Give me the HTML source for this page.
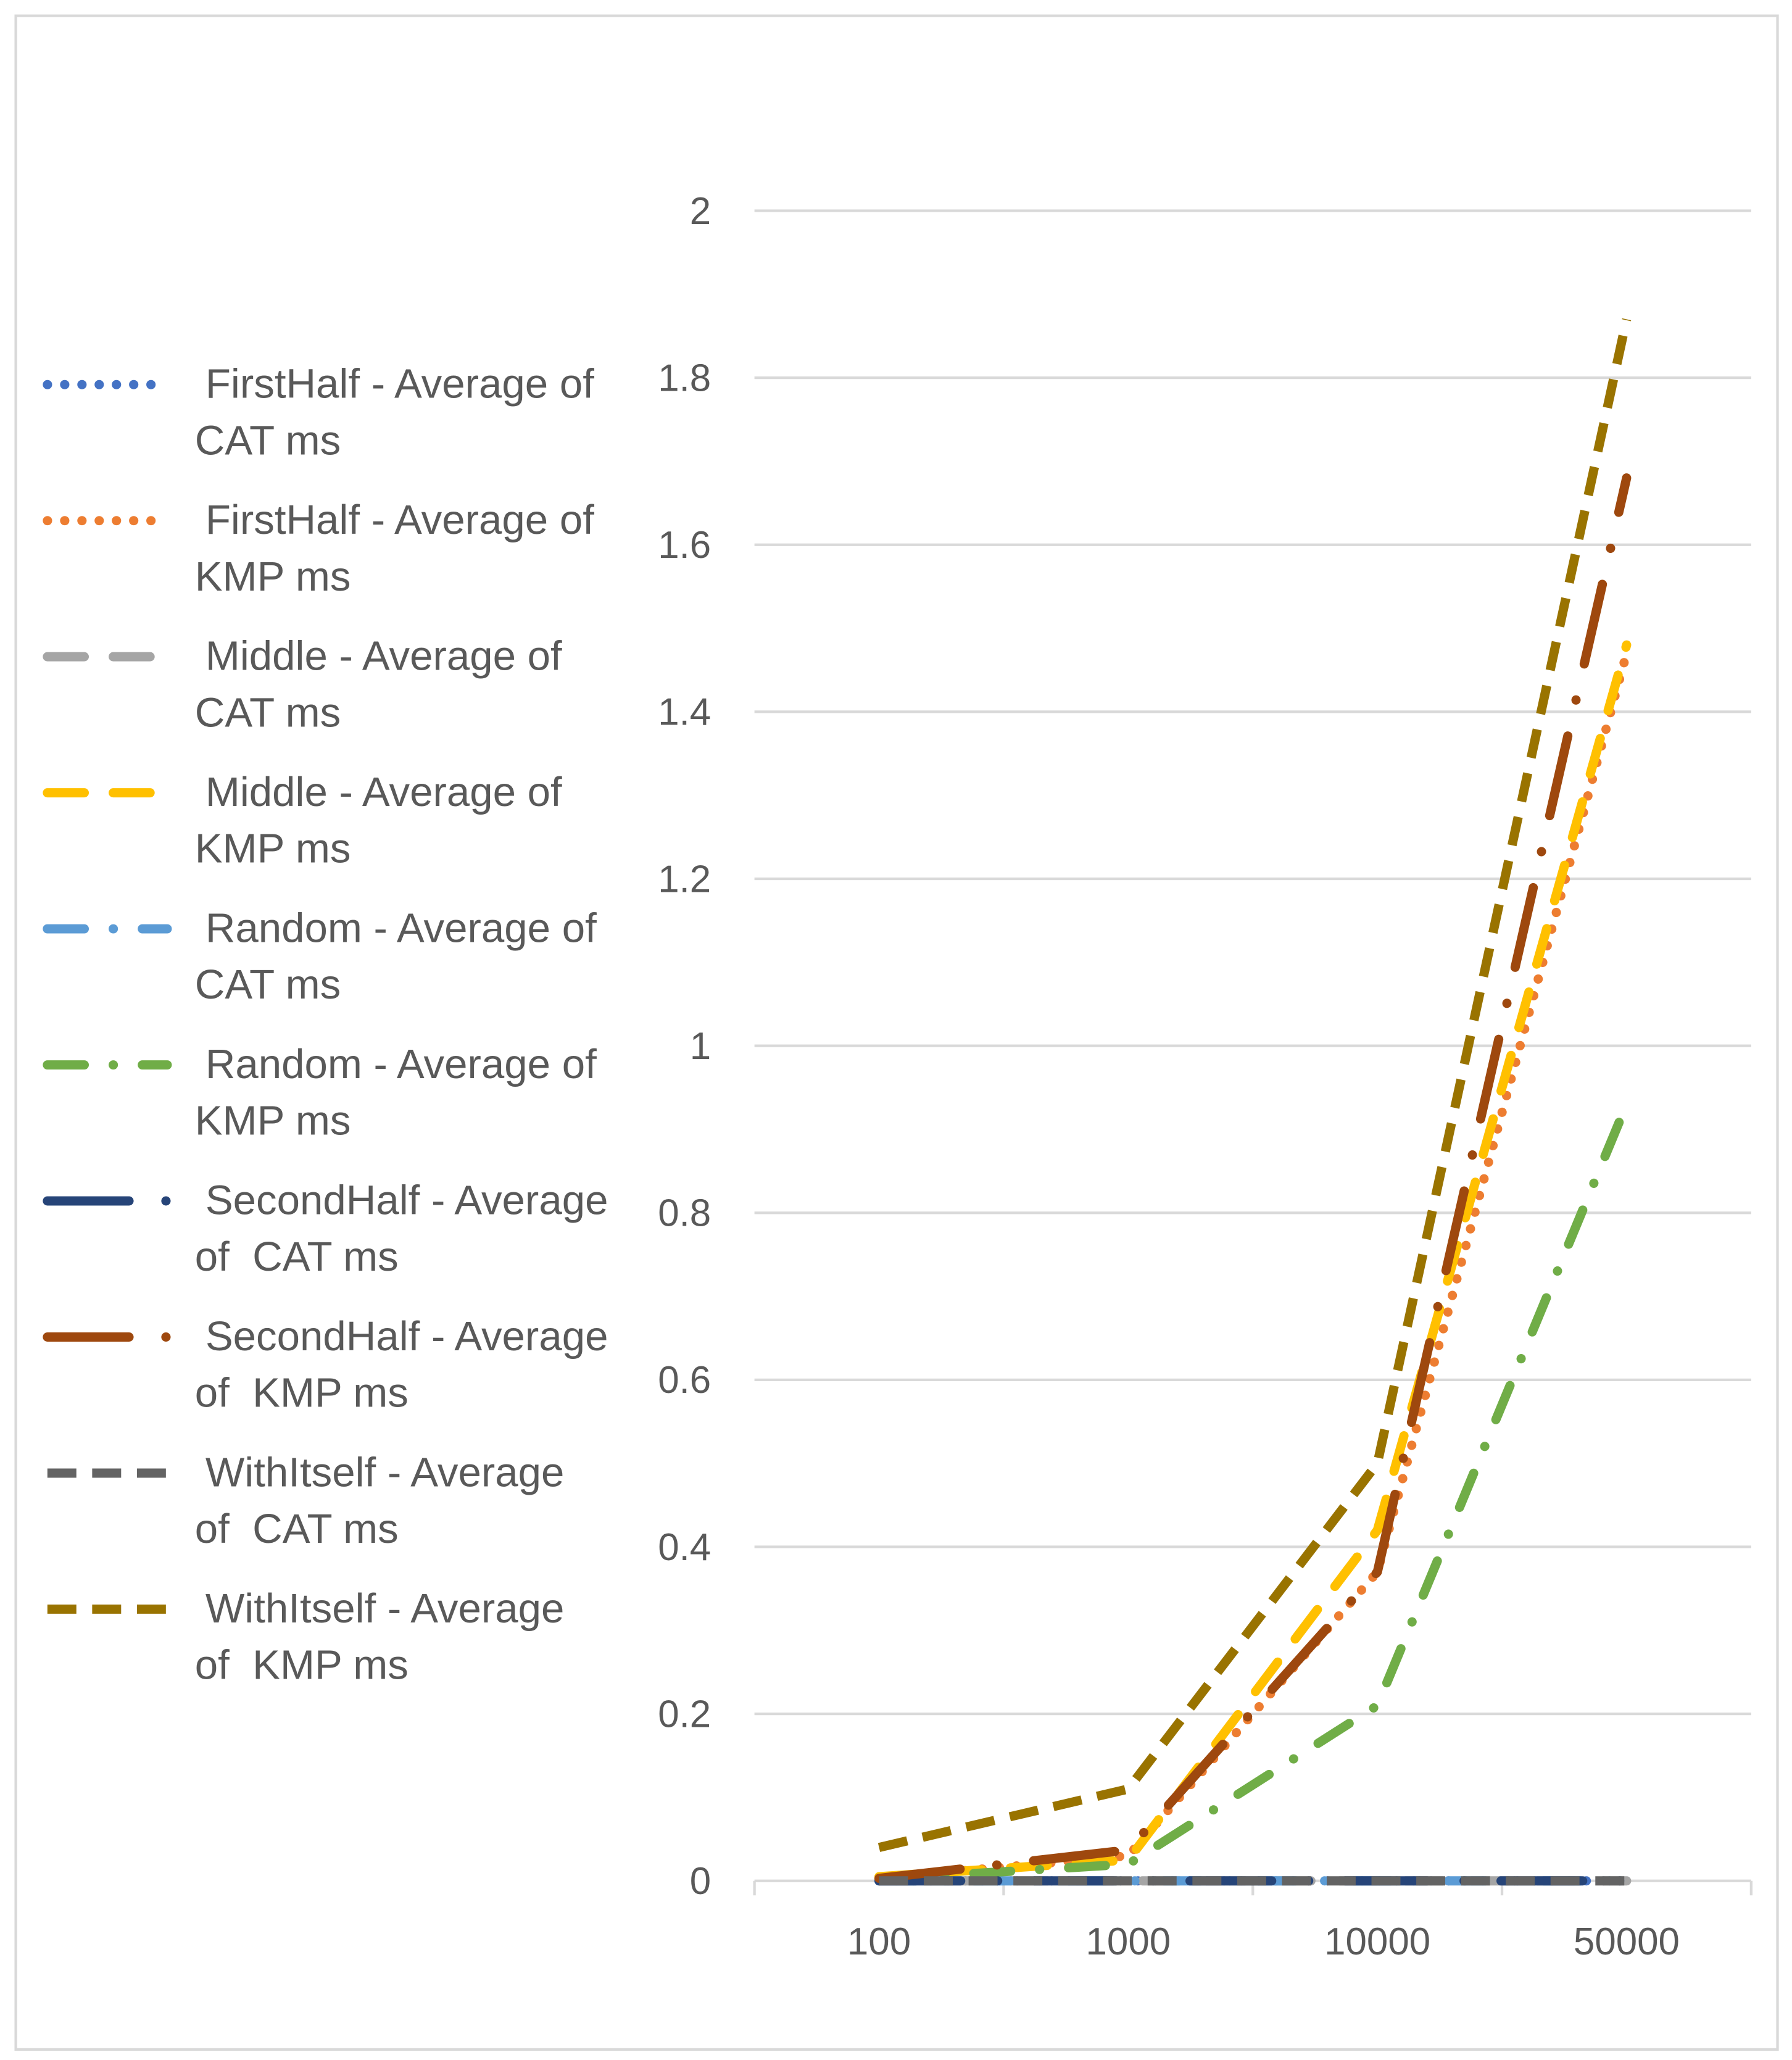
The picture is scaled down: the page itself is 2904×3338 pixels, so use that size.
<!DOCTYPE html>
<html><head><meta charset="utf-8"><style>
html,body{margin:0;padding:0;background:#fff}
svg{display:block}
text{font-family:"Liberation Sans",sans-serif;fill:#595959}
</style></head><body>
<svg id="chart" width="2904" height="3338" viewBox="0 0 1361 1564" preserveAspectRatio="none">
<rect x="12" y="12" width="1338" height="1544" fill="#fff" stroke="#d9d9d9" stroke-width="2"/>
<g id="grid"></g>
<g id="yticks"></g>
<g id="xaxis"></g>
<g id="series"></g>
<g id="legend"></g>
</svg>
<script>
const categories = ["100","1000","10000","50000"];
const yTicks = [0,0.2,0.4,0.6,0.8,1,1.2,1.4,1.6,1.8,2];
const yTickLabels = ["0","0.2","0.4","0.6","0.8","1","1.2","1.4","1.6","1.8","2"];
const firstHalfCat = [0,0,0,0];
const firstHalfKmp = [0.003,0.03,0.37,1.47];
const middleCat = [0,0,0,0];
const middleKmp = [0.005,0.025,0.42,1.48];
const randomCat = [0,0,0,0];
const randomKmp = [0.002,0.02,0.21,0.93];
const secondHalfCat = [0,0,0,0];
const secondHalfKmp = [0.003,0.037,0.37,1.68];
const withItselfCat = [0,0,0,0];
const withItselfKmp = [0.04,0.11,0.5,1.87];

const NS="http://www.w3.org/2000/svg";
const X0=573,X1=1330,Y0=1428,Y2=160;
const bw=(X1-X0)/categories.length;
const xs=i=>X0+bw*(i+0.5);
const ys=v=>Y0-(v/2)*(Y0-Y2);
function mk(tag,attrs,parent){const e=document.createElementNS(NS,tag);for(const k in attrs)e.setAttribute(k,attrs[k]);parent.appendChild(e);return e;}

const grid=document.getElementById('grid'),yt=document.getElementById('yticks'),xa=document.getElementById('xaxis');
yTicks.forEach((v,i)=>{
  if(v>0){const l=mk('line',{x1:X0,x2:X1,y1:ys(v),y2:ys(v),stroke:'#d9d9d9','stroke-width':2},grid);
  
  }
  const t=mk('text',{x:540,y:ys(v)+10,'text-anchor':'end','font-size':29},yt);
  t.textContent=yTickLabels[i];
  
  
});
const ax=mk('line',{x1:X0,x2:X1,y1:Y0,y2:Y0,stroke:'#d9d9d9','stroke-width':2},xa);


for(let i=0;i<=categories.length;i++){
  const tk=mk('line',{x1:X0+bw*i,x2:X0+bw*i,y1:Y0,y2:Y0+11,stroke:'#d9d9d9','stroke-width':2},xa);
  
  
}
categories.forEach((c,i)=>{
  const t=mk('text',{x:xs(i),y:1484,'text-anchor':'middle','font-size':29},xa);
  t.textContent=c;
  
  
});

const defs=[
 {n:"FirstHalf - Average of|CAT ms",d:firstHalfCat,c:"#4472C4",dash:"0.1 13",cap:"round"},
 {n:"FirstHalf - Average of|KMP ms",d:firstHalfKmp,c:"#ED7D31",dash:"0.1 13",cap:"round"},
 {n:"Middle - Average of|CAT ms",d:middleCat,c:"#A5A5A5",dash:"28 22",cap:"round"},
 {n:"Middle - Average of|KMP ms",d:middleKmp,c:"#FFC000",dash:"28 22",cap:"round"},
 {n:"Random - Average of|CAT ms",d:randomCat,c:"#5B9BD5",dash:"28 22 0.1 22",cap:"round"},
 {n:"Random - Average of|KMP ms",d:randomKmp,c:"#70AD47",dash:"28 22 0.1 22",cap:"round"},
 {n:"SecondHalf - Average|of  CAT ms",d:secondHalfCat,c:"#264478",dash:"62 28 0.1 28",cap:"round"},
 {n:"SecondHalf - Average|of  KMP ms",d:secondHalfKmp,c:"#9E480E",dash:"62 28 0.1 28",cap:"round"},
 {n:"WithItself - Average|of  CAT ms",d:withItselfCat,c:"#636363",dash:"22 12",cap:"butt"},
 {n:"WithItself - Average|of  KMP ms",d:withItselfKmp,c:"#997300",dash:"22 12",cap:"butt"}
];
const sg=document.getElementById('series'),lg=document.getElementById('legend');
defs.forEach((s,k)=>{
  const pts=s.d.map((v,i)=>xs(i)+','+ys(v)).join(' ');
  const p=mk('polyline',{points:pts,fill:'none',stroke:s.c,'stroke-width':7,'stroke-dasharray':s.dash,'stroke-linecap':s.cap,'stroke-linejoin':'round'},sg);
  
  
  const y=292+k*103.3;
  const g=mk('g',{},lg);
  
  
  mk('line',{x1:36,x2:127,y1:y,y2:y,stroke:s.c,'stroke-width':7,'stroke-dasharray':s.dash,'stroke-linecap':s.cap},g);
  const parts=s.n.split('|');
  const t1=mk('text',{x:156,y:y+10,'font-size':31.5},g);t1.textContent=parts[0];
  const t2=mk('text',{x:148,y:y+53,'font-size':31.5},g);t2.textContent=parts[1];
  t2.style.whiteSpace='pre';
});
</script>
</body></html>
